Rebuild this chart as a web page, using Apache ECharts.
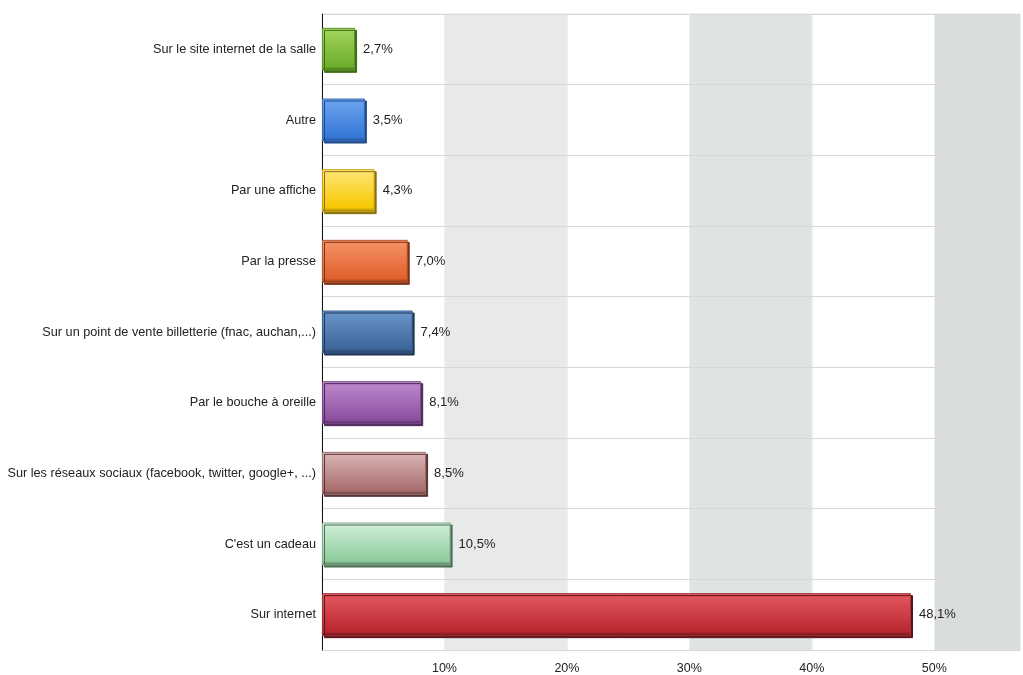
<!DOCTYPE html>
<html><head><meta charset="utf-8">
<script src="https://cdn.jsdelivr.net/npm/echarts@6/dist/echarts.min.js"></script>
<style>html,body{margin:0;padding:0;background:#fff;overflow:hidden}#c{width:1023px;height:675px}</style>
</head><body><div id="c"></div>
<script>
const categories = [
  "Sur le site internet de la salle",
  "Autre",
  "Par une affiche",
  "Par la presse",
  "Sur un point de vente billetterie (fnac, auchan,...)",
  "Par le bouche à oreille",
  "Sur les réseaux sociaux (facebook, twitter, google+, ...)",
  "C'est un cadeau",
  "Sur internet"
];
const values = [2.7, 3.5, 4.3, 7.0, 7.4, 8.1, 8.5, 10.5, 48.1];
const tickLabels = {10: "10%", 20: "20%", 30: "30%", 40: "40%", 50: "50%"};

// [top, bottom, edge, border]
const palette = [
  ["#a2d65e", "#6fae2c", "#3f6b18", "#5d9426"],
  ["#6ea6f0", "#3577d6", "#1f4a8a", "#3a6fb8"],
  ["#ffe67a", "#f7c800", "#8a7010", "#c9a418"],
  ["#f69468", "#e0602c", "#7a3418", "#b8552c"],
  ["#6a98cc", "#3c6598", "#1f3656", "#3a5f8c"],
  ["#bf8acf", "#8c4f9f", "#4c2858", "#7a4a8a"],
  ["#dcb8b8", "#a86c6c", "#5a3434", "#9a7070"],
  ["#d4f0da", "#8ccc9c", "#4a6e52", "#88a890"],
  ["#e65a62", "#b8262e", "#5e1216", "#a0343a"]
];

const data = values.map((v, i) => ({
  value: v,
  itemStyle: {
    color: new echarts.graphic.LinearGradient(0, 0, 0, 1, [
      {offset: 0, color: palette[i][0]},
      {offset: 0.9, color: palette[i][1]},
      {offset: 1, color: palette[i][2]}
    ]),
    borderColor: palette[i][3],
    borderWidth: 1,
    shadowColor: palette[i][2],
    shadowOffsetX: 2,
    shadowOffsetY: 2,
    shadowBlur: 0
  }
}));

const chart = echarts.init(document.getElementById('c'), null, {renderer: 'canvas', width: 1023, height: 675});
chart.setOption({
  animation: false,
  backgroundColor: '#ffffff',
  grid: {left: 322, right: 0, top: 14, bottom: 23, containLabel: false,
         show: true, borderColor: '#e4e4e4', borderWidth: 1, backgroundColor: 'transparent'},
  xAxis: {
    type: 'value', min: 0, max: 57, interval: 10, z: 0,
    axisLine: {show: true, lineStyle: {color: '#e0e0e0'}},
    axisTick: {show: false},
    axisLabel: {
      color: '#222', fontFamily: 'Liberation Sans, Arial', fontSize: 12.5, margin: 12,
      formatter: v => tickLabels[v] || ''
    },
    splitLine: {show: true, lineStyle: {color: '#eeeeee', width: 1}},
    splitArea: {show: true, areaStyle: {color: ['#ffffff', '#e8e9e9', '#ffffff', '#e0e3e3', '#ffffff', '#dadddd']}}
  },
  yAxis: {
    type: 'category', data: categories, inverse: true, z: 1,
    axisLine: {show: true, onZero: false, lineStyle: {color: '#111', width: 1}},
    axisTick: {show: false},
    axisLabel: {color: '#222', fontFamily: 'Liberation Sans, Arial', fontSize: 12.7, margin: 6},
    splitLine: {show: true, lineStyle: {color: '#d8d8d8', width: 1}}
  },
  series: [{
    type: 'bar',
    data: data,
    barWidth: 43,
    z: 3,
    label: {
      show: true, position: 'right', distance: 8,
      color: '#222', fontFamily: 'Liberation Sans, Arial', fontSize: 13,
      formatter: p => p.value.toFixed(1).replace('.', ',') + '%'
    }
  }]
});
</script>
</body></html>
